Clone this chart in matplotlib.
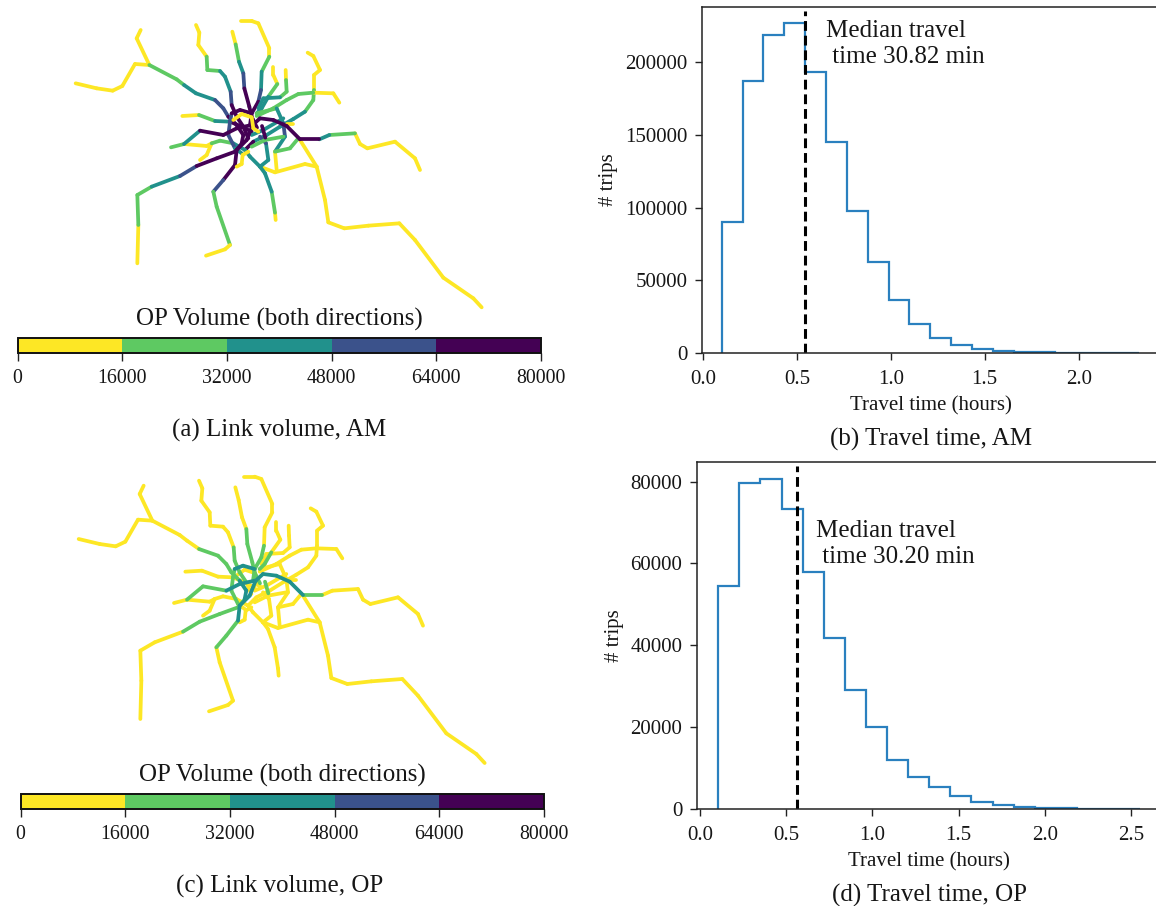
import matplotlib
matplotlib.use("Agg")
import matplotlib.pyplot as plt
from matplotlib.collections import LineCollection
from matplotlib.colors import ListedColormap, BoundaryNorm
from matplotlib.cm import ScalarMappable

plt.rcParams['font.family'] = ['Liberation Serif', 'DejaVu Serif']
W, H = 1156, 906
fig = plt.figure(figsize=(W / 100, H / 100), dpi=100)

# ---------- data ----------
band_colors = ['#fde725', '#5ec962', '#21918c', '#3b528b', '#440154']
volume_bounds = [0, 16000, 32000, 48000, 64000, 80000]
band_volume = {'Y': 8000, 'G': 24000, 'T': 40000, 'B': 56000, 'P': 72000}

# (map coordinates, AM band per link, OP band per link)
west = [(47,220),(110,235),(158,242),(187,228),(225,162),(268,165)]
nw_stub = [(242,60),(230,85),(268,165)]
nw_main = [(268,165),(350,208),(372,225),(408,250),(465,270),(490,295),(505,320),(530,345),(550,375),(545,400)]
n1 = [(408,45),(418,68),(415,105),(440,140),(442,180),(480,183),(495,200),(512,245),(515,285),(530,320),(550,350),(565,385)]
n2 = [(517,65),(527,103),(537,155),(550,190),(553,235),(568,290),(575,320),(585,345)]
n3 = [(542,33),(575,33),(595,40),(628,115),(628,140),(605,185),(603,240),(595,275),(575,310),(570,345)]
n4 = [(640,170),(640,195),(652,222),(625,260),(605,295),(590,310)]
n5 = [(677,180),(678,210),(680,245),(660,262),(610,265),(595,295)]
ne = [(743,128),(760,138),(780,180),(762,195),(762,240),(760,270),(735,305),(700,327),(660,350),(620,375),(580,395),(555,420)]
ene = [(838,278),(820,250),(760,248),(715,252),(680,270),(640,295),(590,318)]
east = [(1080,480),(1065,445),(1005,395),(922,415),(900,402),(885,370),(808,375),(778,388),(720,388),(680,348),(640,330),(600,325),(578,345),(560,390),(530,420),(525,465),(490,510),(460,545),(470,590),(510,705),(495,718),(438,737)]
se = [(1265,892),(1240,865),(1150,803),(1065,690),(1018,640),(925,647),(853,655),(805,637),(795,570),(770,470),(720,390)]
se_loop = [(770,470),(735,462),(645,487),(600,470)]
sw = [(232,760),(235,645),(232,555),(275,530),(360,498),(410,468),(470,445),(525,425),(550,395)]
south = [(647,630),(645,608),(635,545),(615,490),(600,470)]
w1 = [(367,318),(417,315),(465,333),(510,335),(545,350),(575,365)]
w2 = [(333,412),(372,402),(420,362),(490,375),(530,355),(575,345)]
w3 = [(372,402),(440,408),(455,400),(440,435),(420,450)]
w4 = [(455,400),(480,392),(520,400),(555,420)]
ring_left = [(515,310),(510,335),(505,375),(525,415),(545,430)]
ring_top = [(515,310),(540,300),(575,310)]
ring_right = [(590,310),(650,295),(670,340),(675,380),(645,425),(650,480)]
inner_ring = [(555,420),(570,440),(600,470),(625,450),(618,400),(600,380)]
e_spur = [(645,425),(690,415),(715,385)]
cross1 = [(575,410),(615,390),(670,380)]
cross2 = [(575,375),(610,360),(670,325)]
spur = [(680,343),(700,343)]
centre_a = [(576,323),(591,353)]
centre_b = [(606,348),(616,383)]
bottom_y = [(530,470),(545,462),(548,435),(565,425)]
centre_y = [(520,330),(545,312),(575,322),(580,355),(595,365)]

routes = [
    (west, 'YYYYY', 'YYYYY'),
    (nw_stub, 'YY', 'YY'),
    (se, 'YYYYYYYYYY', 'YYYYYYYYYY'),
    (se_loop, 'YYY', 'YYY'),
    (nw_main, 'GGTTBBPPP', 'YYYGGGGTT'),
    (n1, 'YYYGGTTBPPP', 'YYYYYYYGGGY'),
    (n2, 'YGTBPPP', 'YYYGGGY'),
    (n3, 'YYYYGTBPP', 'YYYYYYGGG'),
    (n4, 'YYGTT', 'YYYGG'),
    (n5, 'YGGTT', 'YYYYY'),
    (ne, 'YYYYGGTTTTP', 'YYYYYYYYYYY'),
    (ene, 'YYGGGG', 'YYYYYY'),
    (south, 'YGTT', 'YYYY'),
    (w1, 'YGTPP', 'YYYYY'),
    (w3, 'YYYY', 'YYYY'),
    (w4, 'GGT', 'YYY'),
    (ring_right, 'GTBTY', 'YYYYY'),
    (inner_ring, 'TTTTB', 'YYYYY'),
    (e_spur, 'GG', 'YY'),
    (cross1, 'GG', 'YY'),
    (cross2, 'TT', 'YY'),
    (spur, 'Y', 'Y'),
    (ring_left, 'BBBT', 'GGGY'),
    (ring_top, 'PP', 'TT'),
    (centre_a, 'P', 'G'),
    (centre_b, 'P', 'G'),
    (w2, 'GTPPP', 'YGGTT'),
    (sw, 'YGGTBPPP', 'YYYYGGGG'),
    (east, 'YYYYYGTPPPPPPPPPBGGYY', 'YYYYYYYGTTTTTTTGGYYYY'),
    (bottom_y, 'YYY', 'YYY'),
    (centre_y, 'YYYY', 'YYYY'),
]

bin_edges_am = [0.10, 0.211, 0.322, 0.433, 0.544, 0.655, 0.766, 0.877, 0.988, 1.099, 1.21,
                1.321, 1.432, 1.543, 1.654, 1.765, 1.876, 1.987, 2.098, 2.209, 2.32]
trips_am = [90400, 187000, 219000, 227200, 193200, 145000, 97800, 62400, 36250, 19700,
            10500, 5500, 2800, 1500, 900, 500, 250, 150, 80, 40]
bin_edges_op = [0.107, 0.229, 0.351, 0.474, 0.596, 0.718, 0.840, 0.962, 1.085, 1.207, 1.329,
                1.451, 1.573, 1.696, 1.818, 1.940, 2.062, 2.184, 2.307, 2.429, 2.551]
trips_op = [54600, 79700, 80700, 73350, 57870, 41700, 29100, 20050, 12000, 7900,
            5380, 3260, 1800, 980, 500, 300, 150, 80, 40, 20]
median_line_am = 0.545
median_line_op = 0.561
yticks_am = [0, 50000, 100000, 150000, 200000]
yticks_op = [0, 20000, 40000, 60000, 80000]
xticks_am = [0.0, 0.5, 1.0, 1.5, 2.0]
xticks_op = [0.0, 0.5, 1.0, 1.5, 2.0, 2.5]

cmap = ListedColormap(band_colors)
norm = BoundaryNorm(volume_bounds, cmap.N)
CB_TICK_FS = 14.3
TICK_FS = 15.0
LABEL_FS = 15.0
CAP_FS = 18.0
MED_FS = 18.0
INK = '#161616'


def px_axes(l, t, r, b):
    return fig.add_axes([l / W, 1 - b / H, (r - l) / W, (b - t) / H])


def px_text(x, y, s, **kw):
    kw.setdefault('ha', 'center')
    kw.setdefault('va', 'center')
    kw.setdefault('color', INK)
    return fig.text(x / W, 1 - y / H, s, **kw)


def draw_network(dx, dy, which, sort_by_volume):
    ax = px_axes(60 + dx, 10 + dy, 500 + dx, 320 + dy)
    ax.set_xlim(0, 1320)
    ax.set_ylim(930, 0)
    ax.axis('off')
    ax.patch.set_alpha(0)
    segs, vols = [], []
    for r in routes:
        pts, bands = r[0], r[which]
        for i, b in enumerate(bands):
            segs.append([pts[i], pts[i + 1]])
            vols.append(band_volume[b])
    if sort_by_volume:
        order = sorted(range(len(vols)), key=lambda i: vols[i])
        segs = [segs[i] for i in order]
        vols = [vols[i] for i in order]
    ax.add_collection(LineCollection(segs, array=vols, cmap=cmap, norm=norm,
                                     linewidths=2.7, capstyle='round', joinstyle='round'))
    cax = px_axes(17.5 + dx, 338 + dy, 541 + dx, 353 + dy)
    cb = fig.colorbar(ScalarMappable(norm=norm, cmap=cmap), cax=cax,
                      orientation='horizontal', ticks=volume_bounds, spacing='proportional')
    cb.ax.tick_params(labelsize=CB_TICK_FS, length=6, width=1.0, pad=5.5, color='#222222', labelcolor=INK)
    cb.outline.set_linewidth(1.4)
    cb.outline.set_edgecolor('#111111')
    cb.ax.set_xticklabels([str(v) for v in volume_bounds])
    px_text(279 + dx, 319.5 + dy, 'OP Volume (both directions)', fontsize=CAP_FS)


def draw_hist(box, xlim, ylim, edges, trips, med, med_top, xticks, yticks):
    ax = px_axes(*box)
    ax.stairs(trips, edges, color='#2a80bf', linewidth=1.6, baseline=0)
    ax.plot([med, med], [0, med_top], color='black', linestyle=(0, (3.2, 1.6)), linewidth=2.2)
    ax.set_xlim(*xlim)
    ax.set_ylim(*ylim)
    ax.set_xticks(xticks)
    ax.set_yticks(yticks)
    ax.tick_params(labelsize=TICK_FS, length=5, width=1.0, color='#222222', labelcolor=INK)
    ax.tick_params(axis='x', pad=7)
    ax.tick_params(axis='y', pad=5.5)
    ax.spines['right'].set_visible(False)
    for s in ('left', 'top', 'bottom'):
        ax.spines[s].set_linewidth(1.1)
        ax.spines[s].set_color('#222222')
    return ax


draw_network(0, 0, 1, False)
draw_network(3, 455.67, 2, True)

draw_hist((702, 7, 1160, 353), (-0.005, 2.433), (0, 238200), bin_edges_am, trips_am,
          median_line_am, 235700, xticks_am, yticks_am)
draw_hist((697, 462, 1160, 809), (-0.016, 2.666), (0, 84800), bin_edges_op, trips_op,
          median_line_op, 83900, xticks_op, yticks_op)

px_text(826.5, 44, 'Median travel\n time 30.82 min', ha='left', fontsize=MED_FS, linespacing=1.2)
px_text(816, 544, 'Median travel\n time 30.20 min', ha='left', fontsize=MED_FS, linespacing=1.2)

px_text(608, 180, '# trips', rotation=90, fontsize=LABEL_FS)
px_text(615, 636, '# trips', rotation=90, fontsize=LABEL_FS)
px_text(931, 406, 'Travel time (hours)', fontsize=LABEL_FS)
px_text(929, 862, 'Travel time (hours)', fontsize=LABEL_FS)

px_text(279, 430, '(a) Link volume, AM', fontsize=CAP_FS)
px_text(280, 886, '(c) Link volume, OP', fontsize=CAP_FS)
px_text(931, 439, '(b) Travel time, AM', fontsize=CAP_FS)
px_text(929, 895, '(d) Travel time, OP', fontsize=CAP_FS)

fig.savefig('out.png', dpi=100)
